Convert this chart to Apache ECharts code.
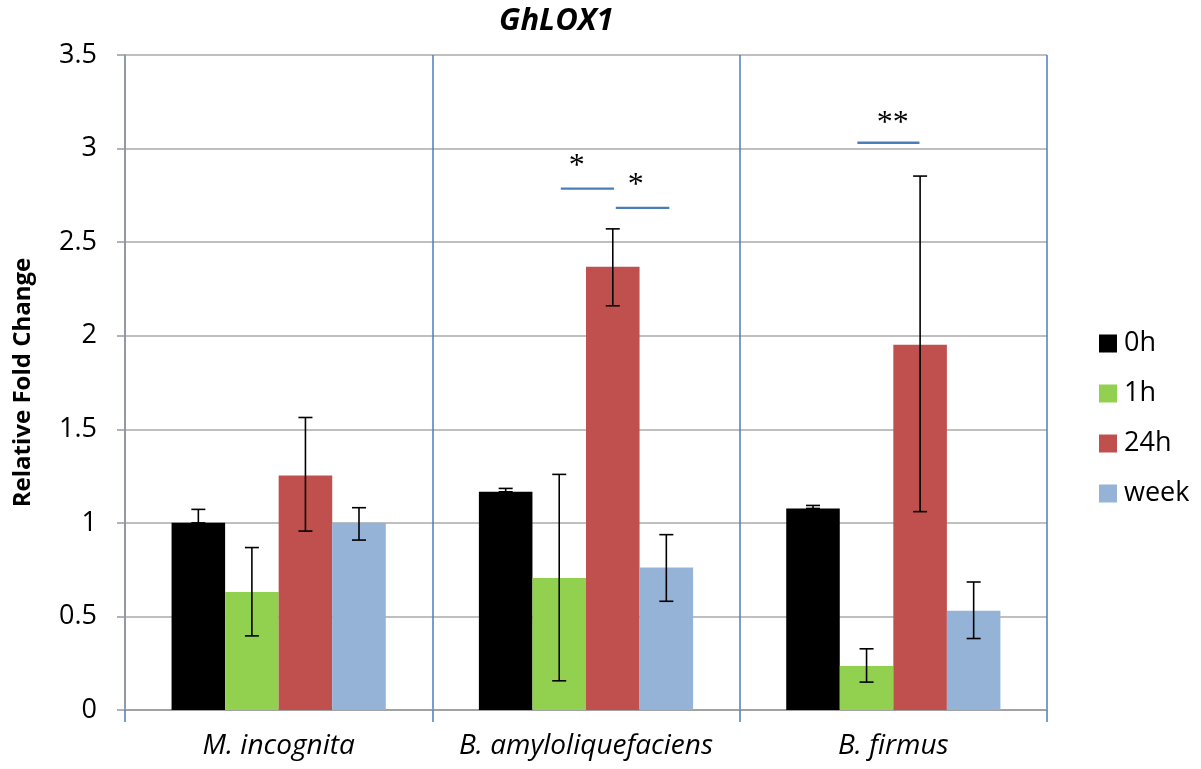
<!DOCTYPE html>
<html>
<head>
<meta charset="utf-8">
<script src="https://cdn.jsdelivr.net/npm/echarts@6/dist/echarts.min.js"></script>
<style>
  html, body { margin: 0; padding: 0; background: #fff; }
  #main { width: 1201px; height: 769px; }
</style>
</head>
<body>
<div id="main"></div>
<script>
  // data
  var categories = ['M. incognita', 'B. amyloliquefaciens', 'B. firmus'];
  var seriesNames = ['0h', '1h', '24h', 'week'];
  var val0h   = [1.00, 1.166, 1.077];
  var val1h   = [0.631, 0.706, 0.235];
  var val24h  = [1.253, 2.368, 1.952];
  var valWeek = [1.00, 0.761, 0.53];
  // error bar ends [low, high]
  var err0h   = [[1.00, 1.072], [1.166, 1.184], [1.077, 1.093]];
  var err1h   = [[0.396, 0.868], [0.156, 1.259], [0.149, 0.327]];
  var err24h  = [[0.956, 1.563], [2.16, 2.571], [1.06, 2.853]];
  var errWeek = [[0.908, 1.081], [0.581, 0.937], [0.382, 0.684]];
  // significance brackets: from, to, y, mark, mark x, mark y (x in category units 0..3)
  var sigBrackets = [
    [1.418, 1.591, 2.786, '*', 1.470, 2.905],
    [1.597, 1.771, 2.683, '*', 1.662, 2.802],
    [2.383, 2.585, 3.031, '**', 2.498, 3.136]
  ];

  var colors = ['#000000', '#92d050', '#c0504d', '#95b3d7'];
  var values = [val0h, val1h, val24h, valWeek];
  var errors = [err0h, err1h, err24h, errWeek];
  var catGap = 0.303;
  var font = '"Open Sans"';

  var myChart = echarts.init(document.getElementById('main'));

  var series = [];
  seriesNames.forEach(function (name, i) {
    series.push({
      name: name,
      type: 'bar',
      data: values[i],
      barGap: '0%',
      barCategoryGap: (catGap * 100) + '%',
      itemStyle: { color: colors[i] },
      z: 2
    });
  });

  seriesNames.forEach(function (name, i) {
    series.push({
      type: 'custom',
      name: name + ' err',
      z: 5,
      data: errors[i].map(function (e, k) { return [k, e[0], e[1]]; }),
      renderItem: function (params, api) {
        var band = api.size([1, 0])[0];
        var barW = band * (1 - catGap) / 4;
        var off = (i - 1.5) * barW;
        var lo = api.coord([api.value(0), api.value(1)]);
        var hi = api.coord([api.value(0), api.value(2)]);
        var x = lo[0] + off;
        var cap = 7;
        var st = { stroke: '#000', lineWidth: 1.6 };
        return {
          type: 'group',
          children: [
            { type: 'line', shape: { x1: x, y1: lo[1], x2: x, y2: hi[1] }, style: st },
            { type: 'line', shape: { x1: x - cap, y1: hi[1], x2: x + cap, y2: hi[1] }, style: st },
            { type: 'line', shape: { x1: x - cap, y1: lo[1], x2: x + cap, y2: lo[1] }, style: st }
          ]
        };
      }
    });
  });

  series.push({
    type: 'custom',
    name: 'sig',
    xAxisIndex: 1,
    z: 6,
    data: sigBrackets,
    renderItem: function (params, api) {
      var a = api.coord([api.value(0), api.value(2)]);
      var b = api.coord([api.value(1), api.value(2)]);
      var t = api.coord([api.value(4), api.value(5)]);
      return {
        type: 'group',
        children: [
          { type: 'line', shape: { x1: a[0], y1: a[1], x2: b[0], y2: b[1] },
            style: { stroke: '#4a7ebb', lineWidth: 2.4 } },
          { type: 'text', x: t[0], y: t[1],
            style: { text: sigBrackets[params.dataIndex][3], align: 'center', verticalAlign: 'middle',
                     font: '32px "Liberation Serif"', fill: '#000' } }
        ]
      };
    }
  });

  myChart.setOption({
    backgroundColor: '#fff',
    animation: false,
    title: {
      text: 'GhLOX1',
      left: 494,
      top: 1,
      textStyle: { fontFamily: font, fontSize: 31, fontWeight: 'bold', fontStyle: 'italic', color: '#000' }
    },
    legend: {
      data: seriesNames,
      orient: 'vertical',
      left: 1094,
      top: 325,
      itemWidth: 18,
      itemHeight: 18,
      itemGap: 23,
      icon: 'rect',
      textStyle: { fontFamily: font, fontSize: 27, color: '#000', padding: [0, 0, 0, 2] }
    },
    grid: { left: 125, right: 154, top: 55, bottom: 59, containLabel: false, outerBoundsMode: 'none' },
    xAxis: [{
      type: 'category',
      data: categories,
      axisLine: { lineStyle: { color: '#999', width: 1.5 } },
      axisTick: { show: true, interval: 0, length: 12, lineStyle: { color: '#4a7ebb', width: 1.5 } },
      splitLine: { show: true, interval: 0, lineStyle: { color: '#4a7ebb', width: 1.5 } },
      axisLabel: { interval: 0, hideOverlap: false, margin: 22, fontFamily: font, fontSize: 28, fontStyle: 'italic', color: '#000' }
    }, {
      type: 'value',
      min: 0,
      max: 3,
      show: false
    }],
    yAxis: {
      type: 'value',
      min: 0,
      max: 3.5,
      interval: 0.5,
      name: 'Relative Fold Change',
      nameLocation: 'middle',
      nameGap: 90,
      nameTextStyle: { fontFamily: font, fontSize: 24, fontWeight: 'bold', color: '#000' },
      axisLine: { show: true, lineStyle: { color: '#999', width: 1.5 } },
      axisTick: { show: true, length: 8, lineStyle: { color: '#999', width: 1.5 } },
      splitLine: { lineStyle: { color: '#aaa', width: 1.5 } },
      axisLabel: { margin: 28, fontFamily: font, fontSize: 27, color: '#000' }
    },
    series: series
  });
</script>
</body>
</html>
